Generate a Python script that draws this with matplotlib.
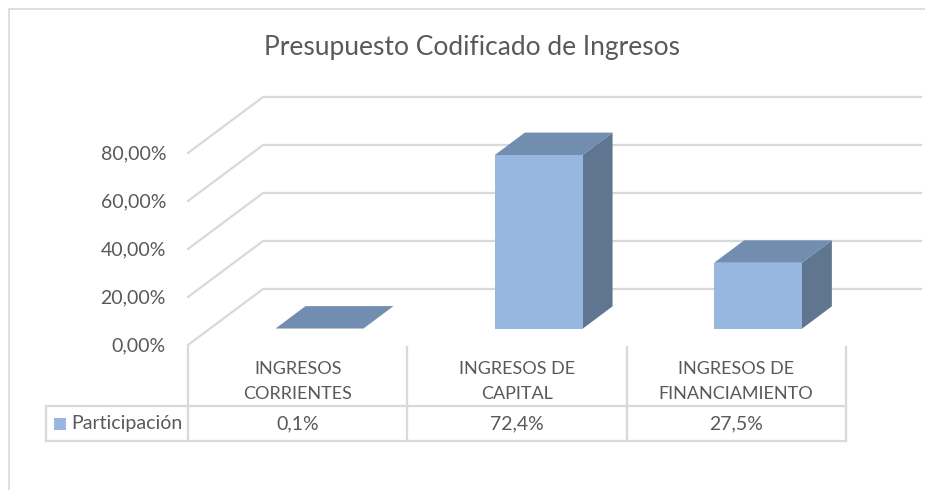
import numpy as np
import matplotlib.pyplot as plt
from matplotlib.patches import Polygon

titulo = "Presupuesto Codificado de Ingresos"
categorias = [["INGRESOS", "CORRIENTES"],
              ["INGRESOS DE", "CAPITAL"],
              ["INGRESOS DE", "FINANCIAMIENTO"]]
serie = "Participación"
participacion = [0.1, 72.4, 27.5]
etiquetas_tabla = ["0,1%", "72,4%", "27,5%"]
ticks_y = [0, 20, 40, 60, 80]
etiquetas_y = ["0,00%", "20,00%", "40,00%", "60,00%", "80,00%"]

plt.rcParams['font.family'] = ['Lato', 'DejaVu Sans']

# colores
c_frente = '#97B7E0'
c_techo = '#718DB0'
c_lado = '#5F7590'
c_grid = '#D9D9D9'
c_texto = '#595959'

# proyeccion oblicua (pixeles)
x0, y0 = 188.0, 345.0      # origen del plano frontal
ancho_cat = 219.3          # ancho de cada categoria
k = 2.4                    # pixeles por punto porcentual
dx, dy = 75.0, 56.0        # vector de profundidad


def proj(c, v, d):
    return (x0 + c * ancho_cat + d * dx, y0 - v * k - d * dy)


fig = plt.figure(figsize=(9.25, 4.9), dpi=100)
ax = fig.add_axes([0, 0, 1, 1])
ax.set_xlim(0, 925)
ax.set_ylim(490, 0)
ax.axis('off')

# borde del grafico
ax.plot([8.5, 8.5, 925], [490, 9, 9], color=c_grid, lw=1.2)

# lineas de cuadricula (pared lateral y fondo)
n = len(categorias)
for v, lab in zip(ticks_y, etiquetas_y):
    p0 = proj(0, v, 0)
    p1 = proj(0, v, 1)
    p2 = proj(n, v, 1)
    ax.plot([p0[0], p1[0], p2[0]], [p0[1], p1[1], p2[1]], color=c_grid, lw=1.6,
            solid_joinstyle='miter', zorder=1)
    ax.text(p0[0] - 22, p0[1] + 1, lab, ha='right', va='center', fontsize=14,
            color=c_texto)

# barras 3D
d0, d1 = 0.29, 0.69
for i, v in enumerate(participacion):
    c0, c1 = i + 0.3, i + 0.7
    frente = [proj(c0, 0, d0), proj(c1, 0, d0), proj(c1, v, d0), proj(c0, v, d0)]
    techo = [proj(c0, v, d0), proj(c1, v, d0), proj(c1, v, d1), proj(c0, v, d1)]
    lado = [proj(c1, 0, d0), proj(c1, 0, d1), proj(c1, v, d1), proj(c1, v, d0)]
    ax.add_patch(Polygon(lado, closed=True, fc=c_lado, ec='none', zorder=3))
    ax.add_patch(Polygon(techo, closed=True, fc=c_techo, ec='none', zorder=3))
    ax.add_patch(Polygon(frente, closed=True, fc=c_frente, ec='none', zorder=4))

# titulo
ax.text(472, 48, titulo, ha='center', va='center', fontsize=19, color=c_texto)

# tabla de datos
y_sup, y_fila, y_inf = 347, 406, 441
x_izq = 46
xs = [proj(c, 0, 0)[0] for c in range(n + 1)]
ax.plot([x_izq, xs[-1]], [y_fila, y_fila], color=c_grid, lw=1.6)
ax.plot([x_izq, xs[-1]], [y_inf, y_inf], color=c_grid, lw=1.6)
ax.plot([x_izq, x_izq], [y_fila, y_inf], color=c_grid, lw=1.6)
for j, xv in enumerate(xs):
    ax.plot([xv, xv], [y0 if j == 0 else y_sup, y_inf], color=c_grid, lw=1.6)

for i, (cat, val) in enumerate(zip(categorias, etiquetas_tabla)):
    xc = proj(i + 0.5, 0, 0)[0]
    ax.text(xc, 369, cat[0], ha='center', va='center', fontsize=13, color=c_texto)
    ax.text(xc, 394, cat[1], ha='center', va='center', fontsize=13, color=c_texto)
    ax.text(xc, 424, val, ha='center', va='center', fontsize=14, color=c_texto)

ax.add_patch(plt.Rectangle((54, 418), 12, 12, fc=c_frente, ec='none'))
ax.text(71, 423, serie, ha='left', va='center', fontsize=14, color=c_texto)

fig.savefig('out.png', dpi=100)
